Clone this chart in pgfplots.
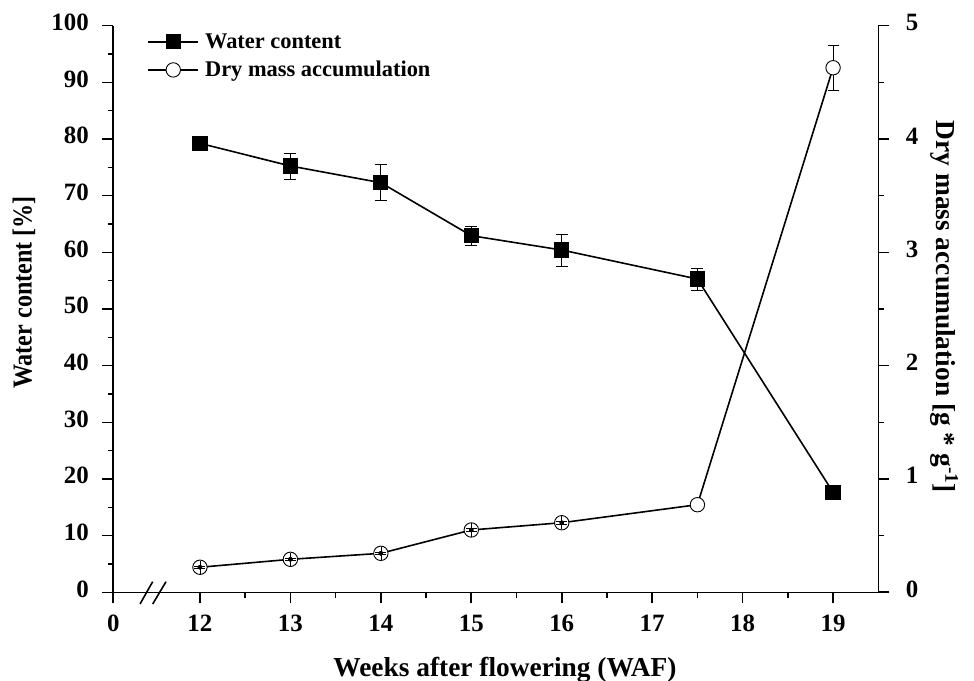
\documentclass[border=0pt]{standalone}
\usepackage{pgfplots}
\pgfplotsset{compat=1.18}
\usepackage{graphicx}
\usepackage{fontspec}
\setmainfont{Liberation Serif}
\begin{document}
\begin{tikzpicture}
\path[use as bounding box] (-113.3bp,-88.7bp) rectangle (860.7bp,592.3bp);
\pgfplotsset{
  common/.style={
    scale only axis, width=765bp, height=566.6bp,
    xmin=11.042, xmax=19.5, clip=false,
    axis line style={-, line width=1.6bp},
    tick align=outside, major tick length=11bp, minor tick length=5.5bp,
    every tick/.style={black, line width=1.6bp},
    /pgf/number format/assume math mode=true,
    tick label style={font=\fontsize{25}{25}\selectfont\bfseries},
    label style={font=\fontsize{27.5}{27.5}\selectfont\bfseries},
  }
}
\begin{axis}[common,
  ymin=0, ymax=100,
  axis x line*=bottom, axis y line*=left,
  xtick={11.042,12,13,14,15,16,17,18,19},
  xticklabels={0,12,13,14,15,16,17,18,19},
  minor xtick={12.5,13.5,14.5,15.5,16.5,17.5,18.5},
  ytick={0,10,...,100}, minor ytick={5,15,...,95},
  typeset ticklabels with strut,
  xticklabel style={yshift=-7bp},
  yticklabel style={xshift=-10bp},
  xlabel={Weeks after flowering (WAF)},
  xlabel style={at={(axis description cs:0.512,-0.1374)}, anchor=center},
  ylabel={\scalebox{0.88}[1]{Water content [\%]}},
  ylabel style={at={(axis description cs:-0.1167,0.529)}, anchor=center},
  legend style={draw=none, fill=none, at={(axis description cs:0.0405,0.995)}, anchor=north west,
    font=\fontsize{22.5}{22.5}\selectfont\bfseries, nodes={inner sep=3bp}, row sep=5.5bp,
    /tikz/every odd column/.append style={column sep=3bp}},
  legend cell align=left,
  legend image code/.code={\draw[mark repeat=2,mark phase=2,#1] plot coordinates {(0bp,0bp) (25bp,0bp) (50bp,0bp)};},
]
\addplot[black, line width=1.6bp, mark=square*, mark size=6.8bp, mark options={solid, fill=black},
  error bars/.cd, y dir=both, y explicit,
  error bar style={black, line width=0.7bp},
  error mark options={rotate=90, mark size=6bp, black, line width=0.7bp}]
coordinates {
(12,79.24) +- (0,1.3)
(13,75.24) +- (0,2.3)
(14,72.29) +- (0,3.2)
(15,62.94) +- (0,1.7)
(16,60.41) +- (0,2.8)
(17.5,55.29) +- (0,1.95)
(19,17.65) +- (0,0.5)
};
\addlegendentry{Water content}
\addlegendimage{black, line width=1.6bp, mark=*, mark size=7.2bp, mark options={fill=white, draw=black, line width=0.9bp}}
\addlegendentry{Dry mass accumulation}
\end{axis}
\begin{axis}[common,
  ymin=0, ymax=5,
  axis x line=none, axis y line*=right,
  ytick={0,1,...,5}, minor ytick={0.5,1.5,...,4.5},
  typeset ticklabels with strut,
  yticklabel style={xshift=13bp},
  ylabel={Dry mass accumulation [g * g\textsuperscript{-1}]},
  ylabel style={rotate=180, at={(axis description cs:1.086,0.504)}, anchor=center},
]
% error bar of the last point, beneath its circle
\addplot[only marks, mark=none, draw=black,
  error bars/.cd, y dir=both, y explicit,
  error bar style={draw=black, line width=0.6bp},
  error mark options={rotate=90, mark size=5.5bp, draw=black, line width=0.6bp}]
coordinates {
(19,4.629) +- (0,0.199)
};
\addplot[black, line width=1.6bp, mark=*, mark size=7.2bp, mark options={fill=white, draw=black, line width=0.9bp}]
coordinates {
(12,0.221)
(13,0.291)
(14,0.344)
(15,0.550)
(16,0.614)
(17.5,0.773)
(19,4.629)
};
\end{axis}
% overlay axis holding the small dry mass error bars, drawn above the circles
\begin{axis}[common,
  ymin=0, ymax=5, hide axis]
\addplot[only marks, mark=none, draw=black,
  error bars/.cd, y dir=both, y explicit, error mark=none,
  error bar style={draw=black, line width=0.6bp}]
coordinates {
(12,0.221) +- (0,0.058)
(13,0.291) +- (0,0.058)
(14,0.344) +- (0,0.058)
(15,0.550) +- (0,0.058)
(16,0.614) +- (0,0.058)
};
\addplot[only marks, mark=none, draw=black,
  error bars/.cd, y dir=both, y explicit,
  error bar style={draw=black, line width=0.6bp},
  error mark options={rotate=90, mark size=5.5bp, draw=black, line width=0.6bp}]
coordinates {
(12,0.221) +- (0,0.012)
(13,0.291) +- (0,0.012)
(14,0.344) +- (0,0.012)
(15,0.550) +- (0,0.012)
(16,0.614) +- (0,0.012)
};
\end{axis}
\draw[line width=1.6bp] (26.7bp,-11.7bp) -- (39.4bp,10.6bp);
\draw[line width=1.6bp] (39.4bp,-11.7bp) -- (52.7bp,10.6bp);
\end{tikzpicture}
\end{document}
